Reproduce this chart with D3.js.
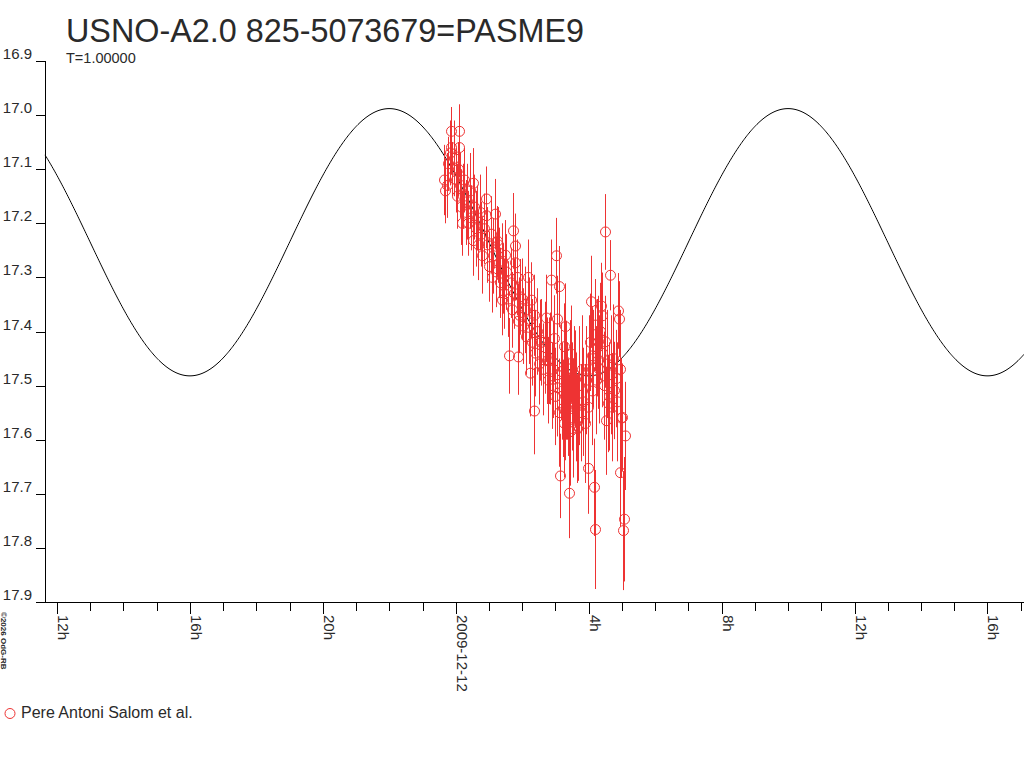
<!DOCTYPE html>
<html>
<head>
<meta charset="utf-8">
<script src="https://cdn.jsdelivr.net/npm/d3@7/dist/d3.min.js"></script>
<style>
  html, body { margin: 0; padding: 0; background: #fff; }
  svg { display: block; font-family: "Liberation Sans", Arial, sans-serif; }
</style>
</head>
<body>
<svg id="chart" width="1024" height="768"></svg>
<script>
// ---------------- DATA ----------------
const titleText = "USNO-A2.0 825-5073679=PASME9";
const subtitleText = "T=1.00000";
const legendLabel = "Pere Antoni Salom et al.";
const creditText = "\u00a92026 OdG-RB";

// magnitude axis
const magTicks = [16.9, 17.0, 17.1, 17.2, 17.3, 17.4, 17.5, 17.6, 17.7, 17.8, 17.9];
// time axis: hours relative to 2009-12-12 00:00 UT
const majorTickHours = [-12, -8, -4, 0, 4, 8, 12, 16];
const majorTickLabels = ["12h", "16h", "20h", "2009-12-12", "4h", "8h", "12h", "16h"];
const minorTickHours = [-12,-11,-10,-9,-8,-7,-6,-5,-4,-3,-2,-1,0,1,2,3,4,5,6,7,8,9,10,11,12,13,14,15,16,17];

// model light curve (sinusoid): mean mag, semi-amplitude, period (h), epoch of faintest (h)
const curveMean = [17.235];
const curveAmplitude = [0.247];
const curvePeriod = [12];
const curveMinEpoch = [4];

// observations: time (h), magnitude, error
const obsHours = [
  -0.35,-0.27,-0.15,0.11,-0.15,0.11,0.90,0.51,1.18,0.91,0.19,0.51,1.73,1.79,1.47,1.78,1.23,
  3.01,2.17,2.87,3.11,2.27,1.88,1.38,1.61,1.87,3.04,3.29,3.26,2.81,2.54,2.24,3.04,3.59,3.44,
  1.30,1.43,1.93,4.50,4.64,4.07,4.37,4.41,4.89,4.91,4.19,2.73,2.97,4.49,4.27,2.74,3.17,4.09,
  4.29,3.47,4.81,3.35,4.77,3.24,4.59,3.29,3.44,3.69,4.52,5.00,5.09,3.14,3.41,3.99,4.16,4.95,
  5.06,5.03,4.18,2.36,
  -0.32,-0.22,-0.18,-0.10,-0.05,0.02,0.05,0.08,0.14,0.17,0.22,0.26,0.30,0.33,0.38,0.42,0.45,
  0.55,0.60,0.64,0.68,0.72,0.76,0.80,0.84,0.95,1.00,1.05,1.09,1.13,1.20,1.26,1.33,1.40,1.46,
  1.52,1.56,1.66,1.70,1.75,1.83,1.91,
  1.98,2.03,2.08,2.12,2.20,2.30,2.34,2.40,2.45,2.50,2.58,2.62,2.68,2.78,2.84,2.90,2.94,3.00,3.06,
  3.12,3.20,3.27,3.32,3.37,3.40,3.50,3.53,3.56,3.62,3.65,3.72,3.76,3.80,3.84,3.88,3.93,3.97,
  4.02,4.05,4.11,4.14,4.22,4.25,4.32,4.35,4.40,4.45,4.55,4.61,4.67,4.70,4.74,4.85,4.93,4.97
];
const obsMag = [
  17.12,17.13,17.03,17.03,17.06,17.06,17.155,17.126,17.183,17.186,17.20,17.232,17.214,17.242,17.259,17.273,17.233,
  17.26,17.30,17.305,17.317,17.342,17.381,17.342,17.445,17.447,17.377,17.391,17.428,17.454,17.416,17.477,17.504,17.488,17.469,
  17.273,17.302,17.336,17.216,17.296,17.345,17.353,17.371,17.362,17.377,17.388,17.375,17.413,17.419,17.419,17.454,17.474,17.445,
  17.453,17.442,17.487,17.51,17.509,17.542,17.533,17.548,17.585,17.576,17.565,17.559,17.593,17.667,17.699,17.653,17.688,17.661,
  17.747,17.768,17.766,17.547,
  17.14,17.09,17.07,17.10,17.08,17.12,17.15,17.10,17.13,17.17,17.15,17.12,17.18,17.16,17.20,17.14,17.19,
  17.17,17.21,17.19,17.24,17.18,17.22,17.26,17.21,17.24,17.28,17.22,17.30,17.26,17.29,17.24,17.31,17.27,17.33,
  17.29,17.34,17.31,17.36,17.33,17.30,17.37,
  17.34,17.39,17.36,17.41,17.38,17.42,17.37,17.44,17.40,17.46,17.42,17.47,17.43,17.49,17.45,17.50,17.47,17.52,17.48,
  17.55,17.51,17.57,17.49,17.54,17.58,17.52,17.56,17.48,17.54,17.58,17.50,17.55,17.47,17.53,17.57,17.49,17.54,
  17.47,17.42,17.51,17.45,17.49,17.43,17.47,17.40,17.44,17.50,17.46,17.52,17.48,17.54,17.45,17.53,17.47,17.56
];
const obsErr = [
  0.065,0.06,0.045,0.05,0.05,0.055,0.06,0.065,0.065,0.06,0.06,0.065,0.07,0.06,0.065,0.07,0.065,
  0.07,0.07,0.075,0.075,0.07,0.07,0.065,0.07,0.07,0.08,0.08,0.08,0.08,0.075,0.08,0.09,0.09,0.09,
  0.065,0.065,0.07,0.07,0.065,0.085,0.08,0.08,0.07,0.07,0.085,0.08,0.08,0.085,0.085,0.08,0.09,0.09,
  0.09,0.09,0.09,0.09,0.09,0.09,0.09,0.09,0.10,0.10,0.10,0.10,0.10,0.078,0.083,0.084,0.09,0.10,
  0.115,0.11,0.11,0.08,
  0.06,0.05,0.06,0.05,0.07,0.06,0.06,0.05,0.06,0.07,0.06,0.06,0.06,0.07,0.06,0.07,0.06,
  0.06,0.07,0.06,0.065,0.07,0.06,0.07,0.065,0.07,0.065,0.07,0.065,0.07,0.065,0.07,0.065,0.07,0.065,
  0.07,0.07,0.065,0.07,0.065,0.07,0.07,
  0.075,0.07,0.08,0.07,0.08,0.08,0.075,0.08,0.08,0.075,0.08,0.085,0.085,0.08,0.085,0.08,0.09,0.09,0.09,
  0.10,0.09,0.10,0.11,0.09,0.10,0.10,0.11,0.09,0.10,0.10,0.11,0.09,0.10,0.10,0.11,0.10,0.10,
  0.10,0.09,0.10,0.09,0.10,0.09,0.10,0.09,0.10,0.10,0.10,0.10,0.11,0.10,0.10,0.11,0.11,0.11
];

// ---------------- DRAW ----------------
const svg = d3.select("#chart");
const textColor = "#2a2a2a";
const red = "#ee3333";

const plotLeft = 45, plotRight = 1024, plotTop = 61, plotBottom = 602;

const x = d3.scaleLinear().domain([-12.36, 17.10]).range([plotLeft, plotRight]);
const y = d3.scaleLinear().domain([16.9, 17.9]).range([plotTop, plotBottom]);

// title
svg.append("text")
  .attr("x", 66).attr("y", 42)
  .attr("font-size", 33)
  .attr("textLength", 518).attr("lengthAdjust", "spacingAndGlyphs")
  .attr("fill", textColor)
  .text(titleText);

svg.append("text")
  .attr("x", 66).attr("y", 63)
  .attr("font-size", 14.5)
  .attr("fill", textColor)
  .text(subtitleText);

// Y axis
svg.append("line")
  .attr("x1", plotLeft + 0.5).attr("x2", plotLeft + 0.5)
  .attr("y1", plotTop).attr("y2", plotBottom)
  .attr("stroke", "#000").attr("stroke-width", 1);

const yt = svg.append("g");
yt.selectAll("line").data(magTicks).join("line")
  .attr("x1", 36).attr("x2", plotLeft)
  .attr("y1", d => Math.round(y(d)) + 0.5).attr("y2", d => Math.round(y(d)) + 0.5)
  .attr("stroke", "#000");
yt.selectAll("text").data(magTicks).join("text")
  .attr("x", 32).attr("y", d => y(d) - 2)
  .attr("text-anchor", "end")
  .attr("font-size", 15)
  .attr("fill", textColor)
  .text(d => d.toFixed(1));

// X axis
svg.append("line")
  .attr("x1", 36).attr("x2", plotRight)
  .attr("y1", plotBottom + 0.5).attr("y2", plotBottom + 0.5)
  .attr("stroke", "#000");

svg.append("g").selectAll("line").data(minorTickHours).join("line")
  .attr("x1", d => Math.round(x(d)) + 0.5).attr("x2", d => Math.round(x(d)) + 0.5)
  .attr("y1", plotBottom).attr("y2", plotBottom + 9)
  .attr("stroke", "#000");

svg.append("g").selectAll("line").data(majorTickHours).join("line")
  .attr("x1", d => Math.round(x(d)) + 0.5).attr("x2", d => Math.round(x(d)) + 0.5)
  .attr("y1", plotBottom).attr("y2", plotBottom + 12)
  .attr("stroke", "#000");

svg.append("g").selectAll("text").data(majorTickHours).join("text")
  .attr("transform", d => `translate(${Math.round(x(d)) + 1},615) rotate(90)`)
  .attr("font-size", 15)
  .attr("fill", textColor)
  .text((d, i) => majorTickLabels[i]);

// credit text
svg.append("text")
  .attr("transform", "translate(1,612) rotate(90)")
  .attr("font-size", 8)
  .attr("font-weight", "bold")
  .attr("fill", textColor)
  .text(creditText);

// model curve
const curvePts = d3.range(plotLeft, plotRight + 1, 1).map(px => {
  const h = x.invert(px);
  return [px, y(curveMean[0] + curveAmplitude[0] * Math.cos(2 * Math.PI * (h - curveMinEpoch[0]) / curvePeriod[0]))];
});
svg.append("path")
  .attr("d", d3.line()(curvePts))
  .attr("fill", "none")
  .attr("stroke", "#000")
  .attr("stroke-width", 1);

// observations
const obs = obsHours.map((h, i) => ({ h, m: obsMag[i], e: obsErr[i] }));
const g = svg.append("g");
g.selectAll("line.err").data(obs).join("line")
  .attr("class", "err")
  .attr("x1", d => Math.round(x(d.h)) + 0.5).attr("x2", d => Math.round(x(d.h)) + 0.5)
  .attr("y1", d => y(d.m - d.e)).attr("y2", d => y(d.m + d.e))
  .attr("stroke", red).attr("stroke-width", 1);
g.selectAll("circle").data(obs).join("circle")
  .attr("cx", d => Math.round(x(d.h)) + 0.5).attr("cy", d => y(d.m))
  .attr("r", 5)
  .attr("fill", "none")
  .attr("stroke", red).attr("stroke-width", 1);

// legend
svg.append("circle")
  .attr("cx", 10).attr("cy", 713.5).attr("r", 5)
  .attr("fill", "none").attr("stroke", red);
svg.append("text")
  .attr("x", 21).attr("y", 718)
  .attr("font-size", 16)
  .attr("fill", textColor)
  .text(legendLabel);
</script>
</body>
</html>
